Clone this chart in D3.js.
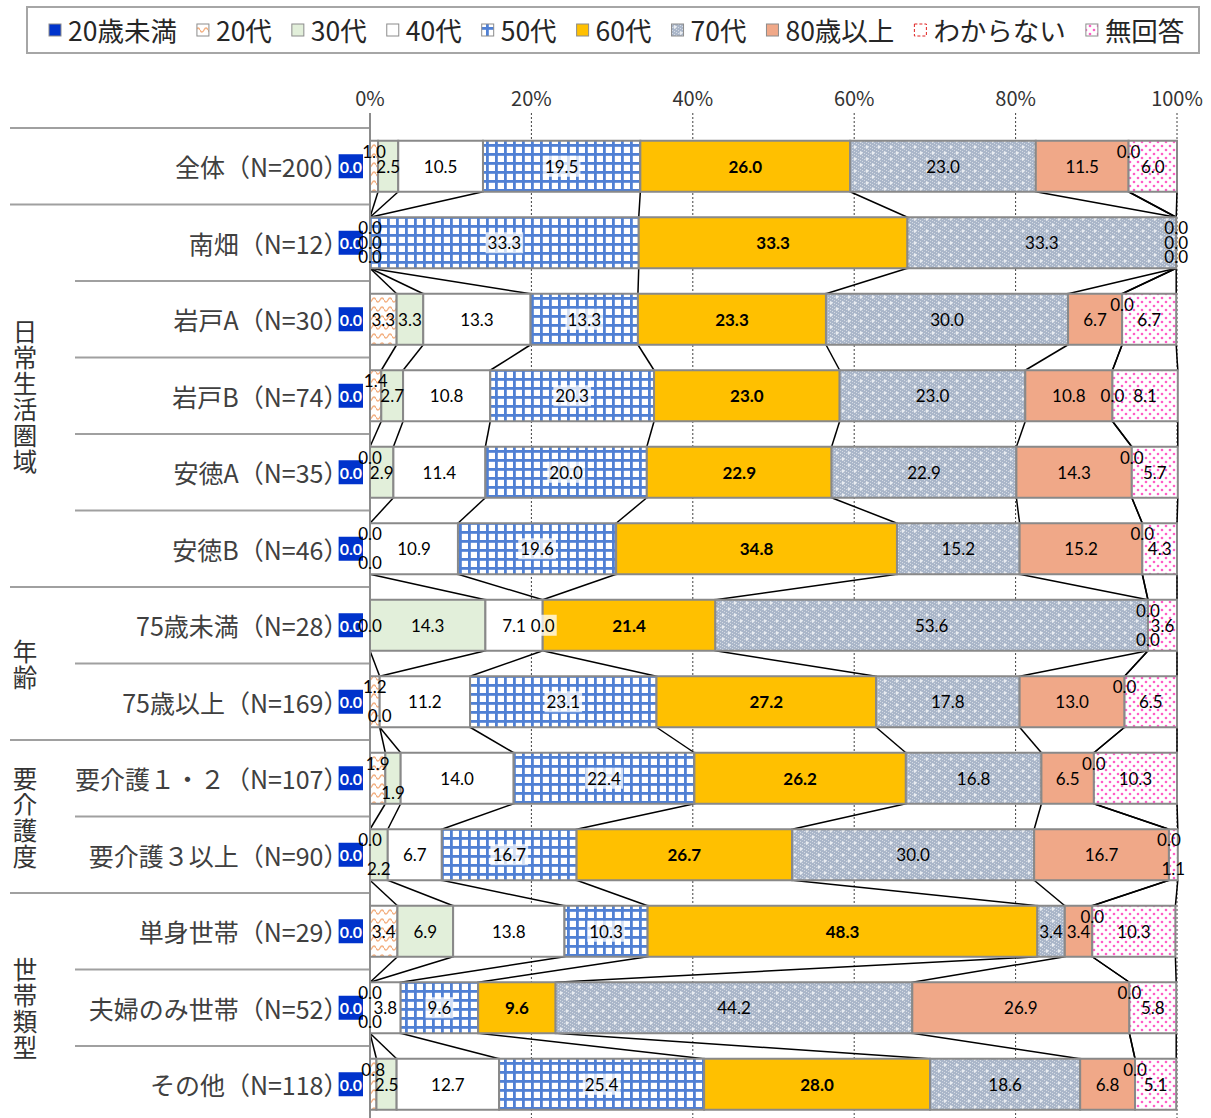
<!DOCTYPE html>
<html>
<head>
<meta charset="utf-8">
<script src="https://cdn.jsdelivr.net/npm/d3@7"></script>
<style>
  body { margin: 0; background: #fff; }
  svg { display: block; }
  .halt { font-feature-settings: "halt" 1; }
</style>
</head>
<body>
<svg id="chart" width="1211" height="1118"></svg>
<script>
// ---- data -------------------------------------------------------------
const seriesNames = ["20歳未満", "20代", "30代", "40代", "50代", "60代", "70代", "80歳以上", "わからない", "無回答"];

const categories = [
  "全体（N=200）", "南畑（N=12）", "岩戸A（N=30）", "岩戸B（N=74）", "安徳A（N=35）", "安徳B（N=46）",
  "75歳未満（N=28）", "75歳以上（N=169）", "要介護１・２（N=107）", "要介護３以上（N=90）",
  "単身世帯（N=29）", "夫婦のみ世帯（N=52）", "その他（N=118）"
];

const under20   = [0.0, 0.0, 0.0, 0.0, 0.0, 0.0, 0.0, 0.0, 0.0, 0.0, 0.0, 0.0, 0.0];
const age20s    = [1.0, 0.0, 3.3, 1.4, 0.0, 0.0, 0.0, 1.2, 1.9, 0.0, 3.4, 0.0, 0.8];
const age30s    = [2.5, 0.0, 3.3, 2.7, 2.9, 0.0, 14.3, 0.0, 1.9, 2.2, 6.9, 0.0, 2.5];
const age40s    = [10.5, 0.0, 13.3, 10.8, 11.4, 10.9, 7.1, 11.2, 14.0, 6.7, 13.8, 3.8, 12.7];
const age50s    = [19.5, 33.3, 13.3, 20.3, 20.0, 19.6, 0.0, 23.1, 22.4, 16.7, 10.3, 9.6, 25.4];
const age60s    = [26.0, 33.3, 23.3, 23.0, 22.9, 34.8, 21.4, 27.2, 26.2, 26.7, 48.3, 9.6, 28.0];
const age70s    = [23.0, 33.3, 30.0, 23.0, 22.9, 15.2, 53.6, 17.8, 16.8, 30.0, 3.4, 44.2, 18.6];
const age80plus = [11.5, 0.0, 6.7, 10.8, 14.3, 15.2, 0.0, 13.0, 6.5, 16.7, 3.4, 26.9, 6.8];
const unknown   = [0.0, 0.0, 0.0, 0.0, 0.0, 0.0, 0.0, 0.0, 0.0, 0.0, 0.0, 0.0, 0.0];
const noAnswer  = [6.0, 0.0, 6.7, 8.1, 5.7, 4.3, 3.6, 6.5, 10.3, 1.1, 10.3, 5.8, 5.1];

const seriesValues = [under20, age20s, age30s, age40s, age50s, age60s, age70s, age80plus, unknown, noAnswer];

const tickValues = [0, 20, 40, 60, 80, 100];

// groups of rows shown on the far left: label, first row, end row (exclusive)
const groupNames  = ["日常生活圏域", "年齢", "要介護度", "世帯類型"];
const groupStarts = [1, 6, 8, 10];
const groupEnds   = [6, 8, 10, 13];

// ---- setup ------------------------------------------------------------
const svg = d3.select("#chart");
const JP = "'Noto Sans CJK JP', 'Noto Sans', sans-serif";
const NUM = "Lato, 'Noto Sans', sans-serif";

const x = d3.scaleLinear().domain([0, 100]).range([370, 1177]);
const rowStep = 76.5;
const y = d3.scaleBand()
  .domain(categories)
  .range([128, 128 + rowStep * categories.length])
  .paddingInner(1 / 3)
  .paddingOuter(1 / 6);
const bw = y.bandwidth();

const table = categories.map((c, i) => {
  const o = { category: c };
  seriesNames.forEach((s, j) => { o[s] = seriesValues[j][i]; });
  return o;
});
const stacked = d3.stack().keys(seriesNames)(table);

// ---- fills & patterns -------------------------------------------------
const defs = svg.append("defs");

function pattern(id, w, h) {
  return defs.append("pattern").attr("id", id)
    .attr("patternUnits", "userSpaceOnUse").attr("width", w).attr("height", h);
}

// 20代: orange waves on white
const p20 = pattern("pat20", 8, 9);
p20.append("rect").attr("width", 8).attr("height", 9).attr("fill", "#fff");
p20.append("path").attr("d", "M0,3 Q2,7 4,3 T8,3")
  .attr("fill", "none").attr("stroke", "#F4B183").attr("stroke-width", 1.4);

// 50代: blue grid
const p50 = pattern("pat50", 9, 9);
p50.append("rect").attr("width", 9).attr("height", 9).attr("fill", "#fff");
p50.append("rect").attr("width", 9).attr("height", 2.8).attr("fill", "#5080D4");
p50.append("rect").attr("width", 2.8).attr("height", 9).attr("fill", "#5080D4");

// 70代: grey-blue texture with white sparkles
const p70 = pattern("pat70", 12, 12);
p70.append("rect").attr("width", 12).attr("height", 12).attr("fill", "#AAB6C9");
for (let i = 0; i < 12; i++) {
  for (let j = 0; j < 12; j++) {
    if ((i + j) % 3 === 0 && (i % 2 === 0)) {
      p70.append("rect").attr("x", i).attr("y", j).attr("width", 1).attr("height", 1)
        .attr("fill", "#fff").attr("opacity", 0.5);
    }
  }
}
[[3, 3], [9, 9]].forEach(([cx, cy]) => {
  p70.append("rect").attr("x", cx - 1.5).attr("y", cy - 0.5).attr("width", 3).attr("height", 1).attr("fill", "#fff");
  p70.append("rect").attr("x", cx - 0.5).attr("y", cy - 1.5).attr("width", 1).attr("height", 3).attr("fill", "#fff");
});

// 無回答: pink dots on white
const pNA = pattern("patNA", 8, 8);
pNA.append("rect").attr("width", 8).attr("height", 8).attr("fill", "#fff");
pNA.append("circle").attr("cx", 2).attr("cy", 2).attr("r", 1.3).attr("fill", "#FF5EC6");
pNA.append("circle").attr("cx", 6).attr("cy", 6).attr("r", 1.3).attr("fill", "#FF5EC6");

const fills = ["#0033CC", "url(#pat20)", "#E2EFDA", "#FFFFFF", "url(#pat50)", "#FFC000",
               "url(#pat70)", "#F0A888", "#FFFFFF", "url(#patNA)"];

// ---- legend -----------------------------------------------------------
svg.append("rect").attr("x", 27).attr("y", 7).attr("width", 1172).attr("height", 46)
  .attr("fill", "#fff").attr("stroke", "#A6A6A6").attr("stroke-width", 2);

let lx = 49;
seriesNames.forEach((name, j) => {
  const sw = svg.append("rect").attr("x", lx).attr("y", 24).attr("width", 12).attr("height", 12)
    .attr("fill", fills[j]).attr("stroke", "#8C8C8C").attr("stroke-width", 1);
  if (name === "わからない") sw.attr("stroke", "#E02020").attr("stroke-dasharray", "3,2");
  const t = svg.append("text").attr("x", lx + 19).attr("y", 29)
    .attr("dominant-baseline", "central")
    .attr("font-family", JP).attr("font-size", 26.5).attr("fill", "#262626")
    .text(name);
  lx += 19 + t.node().getComputedTextLength() + 20;
});

// ---- axis tick labels -------------------------------------------------
svg.append("g").selectAll("text").data(tickValues).join("text")
  .attr("x", d => x(d)).attr("y", 97)
  .attr("text-anchor", "middle").attr("dominant-baseline", "central")
  .attr("font-family", JP).attr("font-size", 20).attr("fill", "#333")
  .text(d => d + "%");

// ---- left side: separators, category labels, group labels -------------
const rowTop = i => 128 + rowStep * i;
const fullRuleRows = [0, 1, 6, 8, 10];
d3.range(0, categories.length).forEach(i => {
  const full = fullRuleRows.includes(i);
  svg.append("line")
    .attr("x1", full ? 10 : 75).attr("x2", 370)
    .attr("y1", rowTop(i)).attr("y2", rowTop(i))
    .attr("stroke", "#A0A0A0").attr("stroke-width", 2);
});

// category names; the closing bracket is set half-width so the text ends at its ink
const catText = svg.append("g").selectAll("text").data(categories).join("text")
  .attr("x", 336).attr("y", d => y(d) + bw / 2)
  .attr("text-anchor", "end").attr("dominant-baseline", "central")
  .attr("font-family", JP).attr("font-size", 25).attr("fill", "#404040");
catText.append("tspan").text(d => d.slice(0, -1));
catText.append("tspan").attr("class", "halt").text(d => d.slice(-1));

groupNames.forEach((g, k) => {
  const cy = (rowTop(groupStarts[k]) + rowTop(groupEnds[k])) / 2;
  const chars = Array.from(g);
  chars.forEach((ch, c) => {
    svg.append("text")
      .attr("x", 25).attr("y", cy + (c - (chars.length - 1) / 2) * 26)
      .attr("text-anchor", "middle").attr("dominant-baseline", "central")
      .attr("font-family", JP).attr("font-size", 24.5).attr("fill", "#333")
      .text(ch);
  });
});

// ---- gridlines --------------------------------------------------------
const gridTop = 113, gridBottom = 1118;
svg.append("g").selectAll("line").data(tickValues.filter(d => d > 0)).join("line")
  .attr("x1", d => x(d)).attr("x2", d => x(d))
  .attr("y1", gridTop).attr("y2", gridBottom)
  .attr("stroke", "#404040").attr("stroke-width", 1).attr("stroke-dasharray", "2,2");

// ---- series lines joining matching boundaries of adjacent bars ----------
const joinG = svg.append("g");
for (let i = 0; i < categories.length - 1; i++) {
  stacked.forEach(layer => {
    joinG.append("line")
      .attr("x1", x(layer[i][1])).attr("y1", y(categories[i]) + bw)
      .attr("x2", x(layer[i + 1][1])).attr("y2", y(categories[i + 1]))
      .attr("stroke", "#000").attr("stroke-width", 1.5);
  });
}

svg.append("line").attr("x1", x(0)).attr("x2", x(0)).attr("y1", gridTop).attr("y2", gridBottom)
  .attr("stroke", "#8C8C8C").attr("stroke-width", 2);

// ---- bars -------------------------------------------------------------
svg.append("g").selectAll("g").data(stacked).join("g")
  .attr("fill", (d, j) => fills[j])
  .selectAll("rect").data(d => d).join("rect")
  .attr("x", d => x(d[0])).attr("width", d => x(d[1]) - x(d[0]))
  .attr("y", d => y(d.data.category)).attr("height", bw)
  .attr("stroke", "#898989").attr("stroke-width", 2);

// ---- value labels -----------------------------------------------------
const fmt = d3.format(".1f");
const labelG = svg.append("g");

// 20歳未満 labels: white on blue, just left of the bars
categories.forEach((cat, i) => {
  const cy = y(cat) + bw / 2;
  const t = labelG.append("text")
    .attr("x", x(stacked[0][i][0]) - 8).attr("y", cy)
    .attr("text-anchor", "end").attr("dominant-baseline", "central")
    .attr("font-family", NUM).attr("font-size", 16).attr("font-weight", 700)
    .attr("fill", "#fff").text(fmt(under20[i]));
  const bb = t.node().getBBox();
  labelG.insert("rect", () => t.node())
    .attr("x", bb.x - 1).attr("y", cy - 12).attr("width", bb.width + 2).attr("height", 24)
    .attr("fill", "#0033CC");
});

const UP = -15, DOWN = 14;
categories.forEach((cat, i) => {
  const cy = y(cat) + bw / 2;
  const items = [];
  for (let j = 1; j < seriesNames.length; j++) {
    const [a, b] = stacked[j][i];
    const t = labelG.append("text")
      .attr("x", x((a + b) / 2)).attr("y", cy)
      .attr("text-anchor", "middle").attr("dominant-baseline", "central")
      .attr("font-family", NUM).attr("font-size", 17)
      .attr("font-weight", j === 5 ? 700 : 400)
      .attr("fill", "#000")
      .text(fmt(seriesValues[j][i]));
    const w = t.node().getComputedTextLength();
    const seg = x(b) - x(a);
    items.push({ j, t, cx: x((a + b) / 2), w, tight: seg < 0.8 * w });
  }
  // group labels that would collide when centred, then move the narrow ones off-centre
  const clusters = [];
  let cur = [items[0]];
  for (let k = 1; k < items.length; k++) {
    const p = items[k - 1], q = items[k];
    if (Math.abs(q.cx - p.cx) < (p.w + q.w) / 2 + 4) cur.push(q);
    else { clusters.push(cur); cur = [q]; }
  }
  clusters.push(cur);
  clusters.forEach(cl => {
    if (cl.length < 2) return;
    const tight = cl.filter(d => d.tight);
    const allTight = tight.length === cl.length;
    let lanes;
    if (allTight && tight.length === 3) lanes = [UP, 0, DOWN];
    else lanes = [UP, DOWN, UP - 14, DOWN + 14];
    tight.forEach((d, k) => d.t.attr("y", cy + lanes[k % lanes.length]));
  });
  // 50代 labels sit on a pale box
  items.filter(d => d.j === 4).forEach(d => {
    const bb = d.t.node().getBBox();
    labelG.insert("rect", () => d.t.node())
      .attr("x", bb.x - 2).attr("y", bb.y).attr("width", bb.width + 4).attr("height", bb.height)
      .attr("fill", "#fff").attr("opacity", 0.75);
  });
});
</script>
</body>
</html>
